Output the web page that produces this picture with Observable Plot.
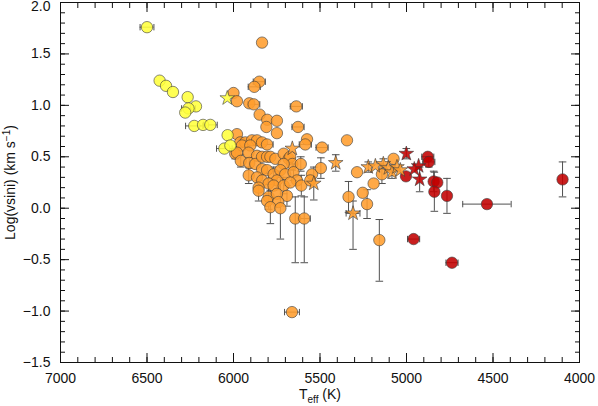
<!DOCTYPE html>
<html><head><meta charset="utf-8">
<script src="https://cdn.jsdelivr.net/npm/d3@7"></script>
<script src="https://cdn.jsdelivr.net/npm/@observablehq/plot@0.6"></script>
<style>
body{margin:0;background:#fff;}
</style>
</head><body><div id="chart"></div>
<script>
// rows: [Teff (K), log vsini, err Teff, err log up, err log down (defaults to up)]
const yellowCircles = [
  [6500, 1.76, 40, 0], [6427, 1.24, 0, 0], [6390, 1.19, 0, 0], [6350, 1.13, 0, 0],
  [6265, 1.08, 0, 0], [6217, 0.99, 0, 0], [6260, 0.97, 40, 0], [6279, 0.93, 0, 0],
  [6227, 0.80, 50, 0], [6176, 0.81, 0, 0], [6134, 0.81, 40, 0], [6034, 0.71, 0, 0],
  [6053, 0.58, 45, 0], [6018, 0.61, 0, 0]
];
const yellowStars = [
  [6036, 1.07, 0, 0]
];
const orangeCircles = [
  [5835, 1.61, 0, 0], [5851, 1.23, 35, 0], [5880, 1.18, 35, 0], [6000, 1.12, 0, 0],
  [5980, 1.04, 0, 0], [5909, 1.02, 0, 0], [5883, 1.01, 35, 0], [5849, 0.91, 0, 0],
  [5805, 0.86, 0, 0], [5749, 0.85, 0, 0], [5810, 0.79, 0, 0], [5749, 0.73, 0, 0],
  [5637, 0.99, 35, 0], [5627, 0.79, 35, 0], [5575, 0.67, 0, 0], [5585, 0.62, 35, 0],
  [5488, 0.59, 35, 0], [5344, 0.66, 0, 0], [5980, 0.72, 0, 0], [5961, 0.64, 0, 0.04],
  [5932, 0.64, 0, 0], [5893, 0.66, 0, 0], [5864, 0.66, 0, 0], [5835, 0.64, 0, 0],
  [5806, 0.62, 35, 0], [5990, 0.53, 0, 0.05], [5951, 0.61, 0, 0], [5903, 0.61, 0, 0],
  [5980, 0.54, 0, 0], [5913, 0.54, 0, 0], [5864, 0.51, 0, 0], [5958, 0.46, 0, 0.06],
  [5909, 0.44, 0, 0.05], [5874, 0.43, 0, 0], [5835, 0.50, 0, 0], [5806, 0.50, 0, 0],
  [5787, 0.50, 0, 0], [5758, 0.48, 0, 0], [5710, 0.53, 0, 0], [5681, 0.48, 0, 0],
  [5672, 0.50, 0, 0], [5660, 0.43, 0, 0.06], [5611, 0.43, 0, 0.07], [5710, 0.43, 0, 0],
  [5912, 0.32, 0, 0.08], [5835, 0.38, 0, 0], [5806, 0.37, 0, 0], [5768, 0.33, 0, 0.07],
  [5729, 0.37, 0, 0], [5701, 0.33, 0, 0], [5653, 0.35, 0, 0.08], [5633, 0.27, 0, 0],
  [5749, 0.27, 0, 0.09], [5864, 0.30, 0, 0], [5834, 0.27, 0, 0], [5797, 0.24, 0, 0.10],
  [5768, 0.22, 0, 0], [5710, 0.22, 0, 0.08], [5672, 0.25, 0, 0], [5608, 0.22, 0, 0.10],
  [5855, 0.20, 0, 0], [5546, 0.33, 0, 0], [5495, 0.39, 0, 0.10], [5556, 0.27, 0, 0],
  [5855, 0.17, 0, 0.10], [5797, 0.11, 0, 0.12], [5691, 0.12, 0, 0.10], [5806, 0.07, 0, 0],
  [5749, 0.14, 0, 0], [5741, 0.06, 0, 0], [5787, 0.01, 0, 0.16], [5729, 0.00, 0, 0.30],
  [5643, -0.10, 0, 0.21, 0.43], [5591, -0.10, 35, 0.21, 0.43], [5286, 0.35, 0, 0],
  [5335, 0.11, 0, 0.15], [5253, 0.15, 0, 0], [5190, 0.24, 0, 0], [5228, 0.04, 0, 0.14],
  [5157, -0.31, 0, 0.20, 0.40], [5142, 0.33, 0, 0.09], [5075, 0.48, 0, 0],
  [5662, -1.01, 43, 0]
];
const orangeStars = [
  [5660, 0.58, 0, 0], [5409, 0.44, 0, 0.08], [5536, 0.24, 0, 0.16],
  [5309, -0.05, 40, 0.12, 0.35], [5221, 0.40, 0, 0.05], [5180, 0.41, 0, 0],
  [5134, 0.43, 0, 0.05], [5105, 0.39, 0, 0], [5084, 0.35, 0, 0.06],
  [5055, 0.40, 0, 0], [5036, 0.37, 0, 0]
];
const redCircles = [
  [4877, 0.50, 35, 0], [4871, 0.45, 35, 0.05], [5003, 0.31, 0, 0], [4843, 0.26, 0, 0.10],
  [4822, 0.25, 0, 0], [4839, 0.16, 0, 0.19], [4766, 0.12, 0, 0.17], [4535, 0.04, 140, 0],
  [4959, -0.30, 35, 0], [4737, -0.53, 35, 0], [4098, 0.28, 0, 0.17]
];
const redStars = [
  [5001, 0.53, 0, 0.05], [4930, 0.41, 0, 0], [4955, 0.38, 0, 0], [4924, 0.28, 0, 0.12]
];
const xTicks = [7000, 6500, 6000, 5500, 5000, 4500, 4000];
const yTicks = [-1.5, -1.0, -0.5, 0.0, 0.5, 1.0, 1.5, 2.0];
const xMinor = d3.range(4000, 7001, 100);
const yMinor = d3.range(-15, 21, 1).map(d => d / 10);

const colors = {yellow: "#ffff3c", orange: "#ff9d2e", red: "#c20000"};
const groups = [
  {rows: orangeCircles, color: colors.orange, star: false},
  {rows: yellowCircles, color: colors.yellow, star: false},
  {rows: redCircles, color: colors.red, star: false},
  {rows: orangeStars, color: colors.orange, star: true},
  {rows: yellowStars, color: colors.yellow, star: true},
  {rows: redStars, color: colors.red, star: true}
];
const toPts = rows => rows.map(([t, v, et, eu, ed]) => ({t, v, et, eu, ed: ed ?? eu}));
const all = groups.flatMap(g => toPts(g.rows));
const xe = all.filter(d => d.et > 0);
const ye = all.filter(d => d.eu > 0);
const xCaps = xe.flatMap(d => [{x: d.t - d.et, y: d.v}, {x: d.t + d.et, y: d.v}]);
const yCaps = ye.flatMap(d => [{x: d.t, y: d.v - d.ed}, {x: d.t, y: d.v + d.eu}]);

const vbar = {draw(ctx, size) { const h = Math.sqrt(size / Math.PI); ctx.moveTo(0, -h); ctx.lineTo(0, h); }};
const hbar = {draw(ctx, size) { const h = Math.sqrt(size / Math.PI); ctx.moveTo(-h, 0); ctx.lineTo(h, 0); }};
const errColor = "#505050";

const pointMarks = groups.map(g => Plot.dot(toPts(g.rows), {
  x: "t", y: "v",
  symbol: g.star ? "star" : "circle",
  r: g.star ? 4.6 : 5.7,
  fill: g.color, fillOpacity: 0.88,
  stroke: "#3a3a3a", strokeOpacity: 0.75, strokeWidth: 0.8
}));

const chart = Plot.plot({
  width: 598, height: 406,
  marginLeft: 60, marginRight: 19, marginTop: 2, marginBottom: 44,
  style: {fontFamily: "'Liberation Sans', Arial, Helvetica, sans-serif", fontSize: "14px", color: "#111", background: "#fff"},
  x: {domain: [7000, 4000]},
  y: {domain: [-1.5, 2.0]},
  marks: [
    Plot.ruleY(xe, {y: "v", x1: d => d.t - d.et, x2: d => d.t + d.et, stroke: errColor, strokeWidth: 1}),
    Plot.dot(xCaps, {x: "x", y: "y", symbol: vbar, r: 3.2, stroke: errColor, fill: "none", strokeWidth: 1}),
    Plot.ruleX(ye, {x: "t", y1: d => d.v - d.ed, y2: d => d.v + d.eu, stroke: errColor, strokeWidth: 1}),
    Plot.dot(yCaps, {x: "x", y: "y", symbol: hbar, r: 3.8, stroke: errColor, fill: "none", strokeWidth: 1}),
    ...pointMarks,
    Plot.frame({stroke: "#111"}),
    Plot.axisX({ticks: xTicks, anchor: "bottom", tickSize: -9, tickPadding: 20, tickFormat: d => String(d), stroke: "#111",
      label: "Teff (K)", labelAnchor: "center", labelOffset: 36, labelArrow: "none"}),
    Plot.axisX({ticks: xMinor, anchor: "bottom", tickSize: -5, tickFormat: () => "", label: null, stroke: "#111"}),
    Plot.axisX({ticks: xTicks, anchor: "top", tickSize: -9, tickFormat: () => "", label: null, stroke: "#111"}),
    Plot.axisX({ticks: xMinor, anchor: "top", tickSize: -5, tickFormat: () => "", label: null, stroke: "#111"}),
    Plot.axisY({ticks: yTicks, anchor: "left", tickSize: -9, tickPadding: 19, tickFormat: d3.format(".1f"), stroke: "#111",
      label: "Log(vsini) (km s-1)", labelAnchor: "center", labelOffset: 55, labelArrow: "none"}),
    Plot.axisY({ticks: yMinor, anchor: "left", tickSize: -5, tickFormat: () => "", label: null, stroke: "#111"}),
    Plot.axisY({ticks: yTicks, anchor: "right", tickSize: -9, tickFormat: () => "", label: null, stroke: "#111"}),
    Plot.axisY({ticks: yMinor, anchor: "right", tickSize: -5, tickFormat: () => "", label: null, stroke: "#111"})
  ]
});

function rich(el, parts) {
  el.textContent = "";
  for (const [s, size, dy] of parts) {
    const ts = document.createElementNS("http://www.w3.org/2000/svg", "tspan");
    ts.textContent = s;
    if (size) ts.setAttribute("font-size", size);
    if (dy) ts.setAttribute("dy", dy);
    el.appendChild(ts);
  }
}
for (const t of chart.querySelectorAll("text")) {
  const s = t.textContent;
  if (s.includes("Teff")) rich(t, [["T"], ["eff", 10, 4], [" (K)", null, -4]]);
  else if (s.includes("Log(vsini)")) rich(t, [["Log(vsini) (km s"], ["\u22121", 10, -5], [")", null, 5]]);
  else if (s === "2.0") {
    const tr = t.getAttribute("transform") || "";
    t.setAttribute("transform", tr + " translate(0,4)");
  }
}
document.getElementById("chart").appendChild(chart);
</script>
</body></html>
